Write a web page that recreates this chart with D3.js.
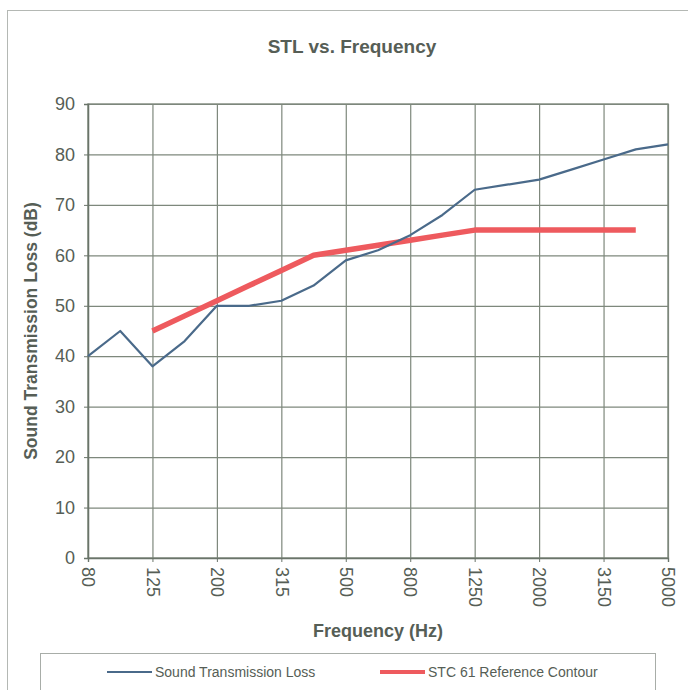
<!DOCTYPE html>
<html>
<head>
<meta charset="utf-8">
<script src="https://cdn.jsdelivr.net/npm/d3@7"></script>
<style>
  body { margin: 0; background: #fff; }
  text { font-family: "Liberation Sans", Arial, sans-serif; }
</style>
</head>
<body>
<div id="chart"></div>
<script>
// third-octave bands (Hz)
var freqs = ['80', '100', '125', '160', '200', '250', '315', '400', '500', '630',
             '800', '1000', '1250', '1600', '2000', '2500', '3150', '4000', '5000'];
var tickLabels = ['80', '125', '200', '315', '500', '800', '1250', '2000', '3150', '5000'];
var yTicks = [0, 10, 20, 30, 40, 50, 60, 70, 80, 90];

// measured STL (dB)
var stlValues = [40, 45, 38, 43, 50, 50, 51, 54, 59, 61, 64, 68, 73, 74, 75, 77, 79, 81, 82];

// STC 61 contour, 125 .. 4000 Hz
var stcFreqs  = ['125', '160', '200', '250', '315', '400', '500', '630', '800', '1000',
                 '1250', '1600', '2000', '2500', '3150', '4000'];
var stcValues = [45, 48, 51, 54, 57, 60, 61, 62, 63, 64, 65, 65, 65, 65, 65, 65];

var width = 688, height = 690;
var margin = { top: 104, right: 20, bottom: 132, left: 88 };
var plotW = width - margin.left - margin.right,
    plotH = height - margin.top - margin.bottom;

var gridColor = '#7e887c',
    textColor = '#565e56';

var svg = d3.select('#chart').append('svg')
    .attr('width', width)
    .attr('height', height);

// outer chart frame
svg.append('rect')
    .attr('x', 7.5).attr('y', 10.5)
    .attr('width', 700).attr('height', 700)
    .attr('fill', 'none')
    .attr('stroke', '#b4b8b4');

// title
svg.append('text')
    .attr('x', 352).attr('y', 53)
    .attr('text-anchor', 'middle')
    .style('font-size', '19px')
    .style('font-weight', 'bold')
    .attr('fill', textColor)
    .text('STL vs. Frequency');

var g = svg.append('g')
    .attr('transform', 'translate(' + margin.left + ',' + margin.top + ')');

var x = d3.scalePoint().domain(freqs).range([0, plotW]);
var y = d3.scaleLinear().domain([0, 90]).range([plotH, 0]);

// horizontal grid
g.append('g')
    .call(d3.axisLeft(y).tickValues(yTicks).tickSize(-plotW).tickFormat(''))
    .call(function(s) {
        s.select('.domain').remove();
        s.selectAll('line').attr('stroke', gridColor).attr('stroke-width', 1.2);
    });

// vertical grid at labelled bands
g.append('g')
    .attr('transform', 'translate(0,' + plotH + ')')
    .call(d3.axisBottom(x).tickValues(tickLabels).tickSize(plotH).tickFormat(''))
    .call(function(s) {
        s.select('.domain').remove();
        s.selectAll('line').attr('stroke', gridColor).attr('stroke-width', 1.2)
            .attr('y2', -plotH);
    });

// plot frame
g.append('rect')
    .attr('width', plotW).attr('height', plotH)
    .attr('fill', 'none')
    .attr('stroke', gridColor)
    .attr('stroke-width', 1.4);

// y axis
g.append('g')
    .call(d3.axisLeft(y).tickValues(yTicks).tickSize(4).tickPadding(9))
    .call(function(s) {
        s.select('.domain').attr('stroke', '#6a746a').attr('stroke-width', 1.4);
        s.selectAll('line').attr('stroke', '#6a746a');
        s.selectAll('text').attr('fill', textColor).style('font-size', '18px');
    });

// x axis
g.append('g')
    .attr('transform', 'translate(0,' + plotH + ')')
    .call(d3.axisBottom(x).tickValues(tickLabels).tickSize(4))
    .call(function(s) {
        s.select('.domain').attr('stroke', '#6a746a').attr('stroke-width', 1.4);
        s.selectAll('line').attr('stroke', '#6a746a');
        s.selectAll('text')
            .attr('fill', textColor)
            .style('font-size', '18px')
            .attr('transform', 'rotate(90)')
            .style('text-anchor', 'start')
            .attr('x', 9)
            .attr('y', 0)
            .attr('dy', '.35em');
    });

// axis titles
svg.append('text')
    .attr('transform', 'translate(37,' + (margin.top + 227) + ') rotate(-90)')
    .attr('text-anchor', 'middle')
    .style('font-size', '17.5px')
    .style('font-weight', 'bold')
    .attr('fill', textColor)
    .text('Sound Transmission Loss (dB)');

svg.append('text')
    .attr('x', 378).attr('y', 637)
    .attr('text-anchor', 'middle')
    .style('font-size', '18px')
    .style('font-weight', 'bold')
    .attr('fill', textColor)
    .text('Frequency (Hz)');

var line = d3.line()
    .x(function(d) { return x(d[0]); })
    .y(function(d) { return y(d[1]); });

var stlColor = '#4a6a8a',
    stcColor = '#ee5a5e';

g.append('path')
    .datum(d3.zip(stcFreqs, stcValues))
    .attr('d', line)
    .attr('fill', 'none')
    .attr('stroke', stcColor)
    .attr('stroke-width', 5.5)
    .attr('stroke-linejoin', 'round');

g.append('path')
    .datum(d3.zip(freqs, stlValues))
    .attr('d', line)
    .attr('fill', 'none')
    .attr('stroke', stlColor)
    .attr('stroke-width', 2.2)
    .attr('stroke-linejoin', 'round');

// legend
svg.append('rect')
    .attr('x', 40.5).attr('y', 653.5)
    .attr('width', 615).attr('height', 60)
    .attr('fill', 'none')
    .attr('stroke', '#a8ada8');

var legendItems = [
    { label: 'Sound Transmission Loss', color: stlColor, w: 2.2, x: 107 },
    { label: 'STC 61 Reference Contour', color: stcColor, w: 4, x: 380 }
];

var lg = svg.selectAll('.legend-item')
    .data(legendItems)
    .enter().append('g')
    .attr('class', 'legend-item')
    .attr('transform', function(d) { return 'translate(' + d.x + ',672)'; });

lg.append('line')
    .attr('x1', 0).attr('x2', 45)
    .attr('stroke', function(d) { return d.color; })
    .attr('stroke-width', function(d) { return d.w; });

lg.append('text')
    .attr('x', 48).attr('dy', '.35em')
    .style('font-size', '14px')
    .attr('fill', textColor)
    .text(function(d) { return d.label; });
</script>
</body>
</html>
